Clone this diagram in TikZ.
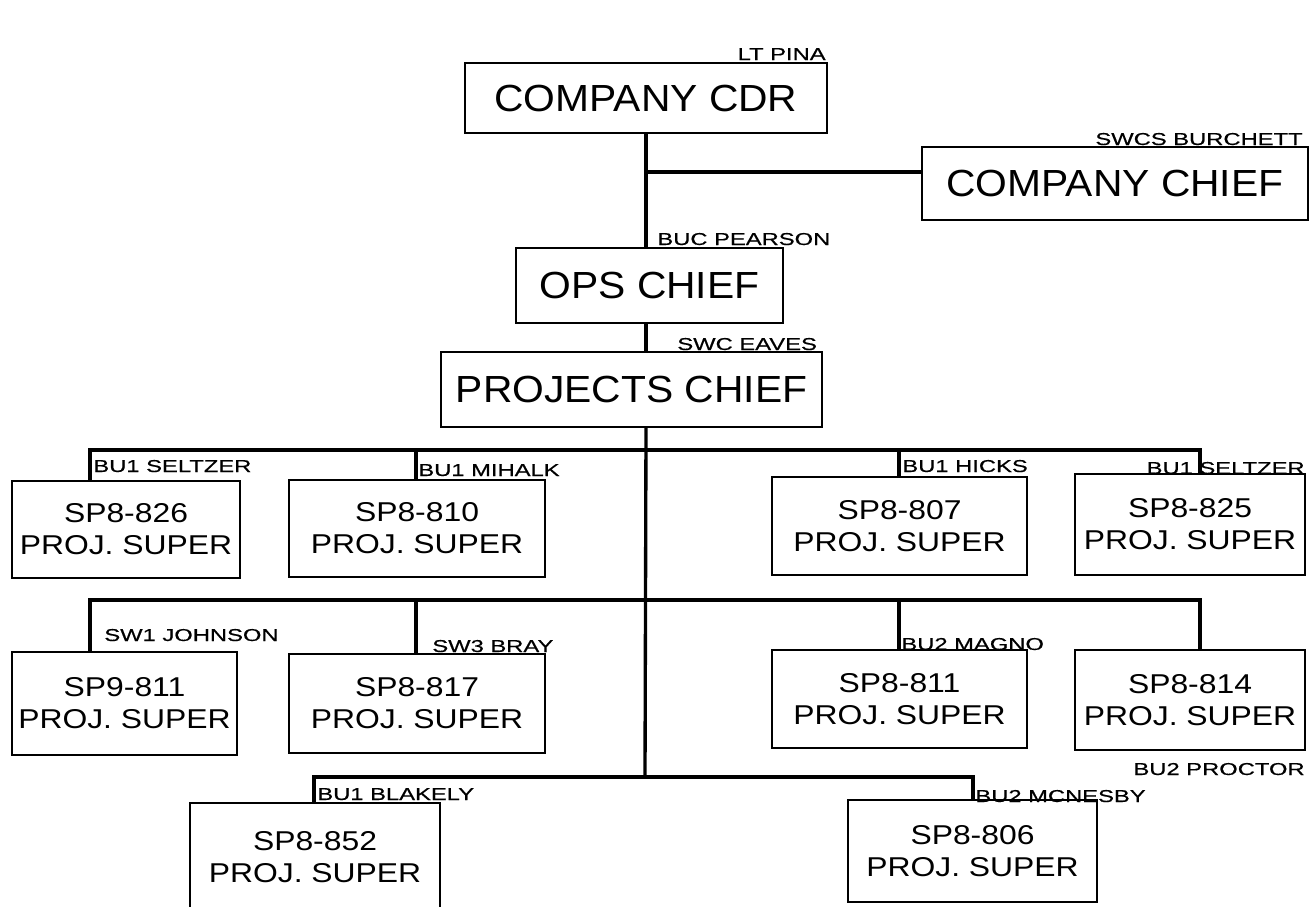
\documentclass[tikz,border=0pt]{standalone}
\usepackage{fontspec}
\setmainfont{Liberation Sans}
\newfontfamily\bigfont[FakeStretch=1.08]{Liberation Sans}
\newfontfamily\boxfont[FakeStretch=1.17]{Liberation Sans}
\newfontfamily\tagfont[FakeStretch=1.38,FakeBold=0.5]{Liberation Sans}
\newcommand{\PX}{0.02cm}
\newcommand{\TopText}{\bigfont\fontsize{21.5}{24}\selectfont}
\newcommand{\BoxText}{\boxfont\fontsize{15.5}{18.2}\selectfont}
\newcommand{\Super}{PROJ. SUPER}
\usepackage{tikz}
\usetikzlibrary{positioning}

\begin{document}
\begin{tikzpicture}[x=\PX,y=-\PX,
  box/.style={draw,line width=1pt,fill=white,inner sep=0pt,align=center},
  chief/.style={box,font=\TopText},
  super/.style={box,font=\BoxText,execute at begin node={\rule{0pt}{16pt}}},
  wire/.style={line width=1.9pt},
  tag/.style={inner sep=0pt,font=\tagfont\fontsize{9.8}{12}\selectfont}]
\useasboundingbox (0,0) rectangle (1311,906);
\node[chief,minimum width=362*\PX,minimum height=70*\PX] (cdr) at (646,98) {COMPANY CDR};
\node[chief,minimum width=386*\PX,minimum height=73*\PX] (cochief) at (1115,183.5) {COMPANY CHIEF};
\node[chief,minimum width=267*\PX,minimum height=75*\PX] (ops) at (649.5,285.5) {OPS CHIEF};
\node[chief,minimum width=381*\PX,minimum height=75*\PX] (projchief) at (631.5,389.5) {PROJECTS CHIEF};
\node[super,minimum width=228*\PX,minimum height=97*\PX] (p826) at (126,529.5) {SP8-826\\\Super};
\node[super,minimum width=256*\PX,minimum height=97*\PX] (p810) at (417,528.5) {SP8-810\\\Super};
\node[super,minimum width=255*\PX,minimum height=98*\PX] (p807) at (899.5,526) {SP8-807\\\Super};
\node[super,minimum width=230*\PX,minimum height=101*\PX] (p825) at (1190,524.5) {SP8-825\\\Super};
\node[super,minimum width=225*\PX,minimum height=103*\PX] (p911) at (124.5,703.5) {SP9-811\\\Super};
\node[super,minimum width=256*\PX,minimum height=99*\PX] (p817) at (417,703.5) {SP8-817\\\Super};
\node[super,minimum width=255*\PX,minimum height=98*\PX] (p811) at (899.5,699) {SP8-811\\\Super};
\node[super,minimum width=230*\PX,minimum height=100*\PX] (p814) at (1190,700) {SP8-814\\\Super};
\node[super,minimum width=250*\PX,minimum height=109*\PX] (p852) at (315,857.5) {SP8-852\\\Super};
\node[super,minimum width=249*\PX,minimum height=102*\PX] (p806) at (972.5,851) {SP8-806\\\Super};
\coordinate (jchief) at (645,172);
\coordinate (b1l) at (90,450);
\coordinate (b1m) at (416,450);
\coordinate (b1c) at (899,450);
\coordinate (b1r) at (1200,450);
\coordinate (b2l) at (90,600);
\coordinate (b2m) at (416,600);
\coordinate (b2c) at (899,600);
\coordinate (b2r) at (1200,600);
\coordinate (b3l) at (314,777);
\coordinate (b3m) at (645,777);
\coordinate (b3r) at (973,777);
\draw[wire] (cdr.south) -- (cdr.south |- ops.north);
\draw[wire] (jchief) -- (jchief -| cochief.west);
\draw[wire] (cdr.south |- ops.south) -- (cdr.south |- projchief.north);
\draw[wire] (cdr.south |- projchief.south) -- (b3m);
\draw[wire] (b1l |- p826.north) -- (b1l) -- (b1r) -- (b1r |- p825.north);
\draw[wire] (b1m) -- (b1m |- p810.north);
\draw[wire] (b1c) -- (b1c |- p807.north);
\draw[wire] (b2l |- p911.north) -- (b2l) -- (b2r) -- (b2r |- p814.north);
\draw[wire] (b2m) -- (b2m |- p817.north);
\draw[wire] (b2c) -- (b2c |- p811.north);
\draw[wire] (b3l |- p852.north) -- (b3l) -- (b3r) -- (b3r |- p806.north);
\node[tag,anchor=base east] (tpina) at (826,60) {LT PINA};
\node[tag,anchor=base east] (tburchett) at (1303,145) {SWCS BURCHETT};
\node[tag,anchor=base west] (tpearson) at (657,245) {BUC PEARSON};
\node[tag,anchor=base west] (teaves) at (677,350) {SWC EAVES};
\node[tag,anchor=base west] (tseltzera) at (93,472) {BU1 SELTZER};
\node[tag,anchor=base west] (tmihalk) at (418,476) {BU1 MIHALK};
\node[tag,anchor=base west] (thicks) at (902,472) {BU1 HICKS};
\node[tag,anchor=base east] (tseltzerb) at (1305,474) {BU1 SELTZER};
\node[tag,anchor=base west] (tjohnson) at (104,641) {SW1 JOHNSON};
\node[tag,anchor=base west] (tbray) at (432,652) {SW3 BRAY};
\node[tag,anchor=base west] (tmagno) at (901,650) {BU2 MAGNO};
\node[tag,anchor=base east] (tproctor) at (1305,775) {BU2 PROCTOR};
\node[tag,anchor=base west] (tblakely) at (317,800) {BU1 BLAKELY};
\node[tag,anchor=base west] (tmcnesby) at (975,802) {BU2 MCNESBY};
\end{tikzpicture}
\end{document}
